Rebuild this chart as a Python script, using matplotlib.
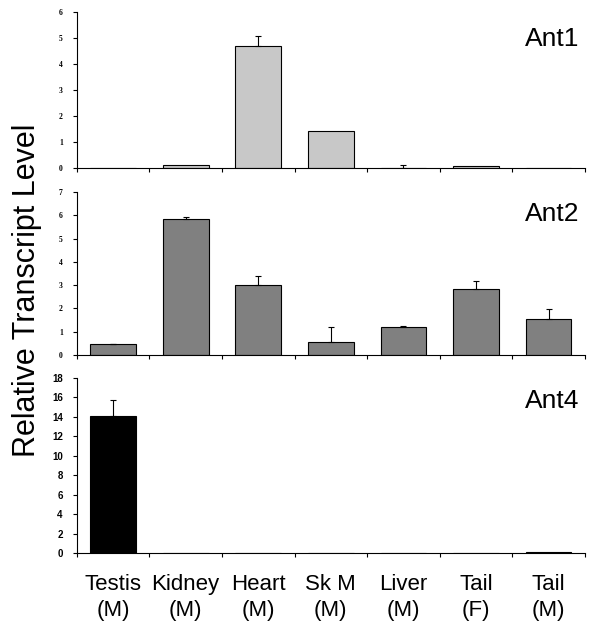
import matplotlib
matplotlib.use("Agg")
import matplotlib.pyplot as plt
import numpy as np

# Tissues (sex in brackets)
tissues = ["Testis\n(M)", "Kidney\n(M)", "Heart\n(M)", "Sk M\n(M)",
           "Liver\n(M)", "Tail\n(F)", "Tail\n(M)"]

ant1 = [0.01, 0.12, 4.70, 1.41, 0.0, 0.08, 0.01]
ant1_err = [0.0, 0.0, 0.38, 0.0, 0.12, 0.0, 0.0]

ant2 = [0.45, 5.82, 3.01, 0.54, 1.19, 2.82, 1.56]
ant2_err = [0.02, 0.12, 0.38, 0.65, 0.07, 0.36, 0.40]

ant4 = [14.05, 0.0, 0.05, 0.0, 0.0, 0.0, 0.12]
ant4_err = [1.72, 0.0, 0.0, 0.0, 0.0, 0.0, 0.0]

panels = [
    ("Ant1", ant1, ant1_err, "#c8c8c8", 6, 1, 0.83, (0.129, 0.7354, 0.854, 0.2457)),
    ("Ant2", ant2, ant2_err, "#808080", 7, 1, 0.865, (0.129, 0.4410, 0.854, 0.2567)),
    ("Ant4", ant4, ant4_err, "#000000", 18, 2, 0.87, (0.129, 0.1291, 0.854, 0.2756)),
]

fig = plt.figure(figsize=(5.95, 6.35), dpi=100)
x = np.arange(len(tissues))

for i, (name, vals, errs, col, ymax, step, ty, rect) in enumerate(panels):
    ax = fig.add_axes(rect)
    ax.bar(x, vals, width=0.63, color=col, edgecolor="black", linewidth=0.8)
    nz = [j for j in range(len(errs)) if errs[j] > 0]
    ax.errorbar(x[nz], np.array(vals)[nz],
                yerr=[np.zeros(len(nz)), np.array(errs)[nz]],
                fmt="none", ecolor="black", elinewidth=0.8, capsize=2.5, capthick=0.8)
    ax.set_xlim(-0.5, 6.5)
    ax.set_ylim(0, ymax)
    ax.set_yticks(np.arange(0, ymax + 0.01, step))
    ax.spines["top"].set_visible(False)
    ax.spines["right"].set_visible(False)
    ax.spines["left"].set_linewidth(0.8)
    ax.spines["bottom"].set_linewidth(0.8)
    ax.set_xticks(np.arange(-0.5, 7, 1))
    ax.tick_params(axis="x", which="major", direction="out", length=3, width=0.8, labelbottom=False)
    ax.tick_params(axis="y", direction="out", length=3, width=0.8, pad=7)
    if i < 2:
        for t in ax.get_yticklabels():
            t.set_fontfamily("Liberation Serif")
            t.set_fontweight("bold")
            t.set_fontsize(5.5)
    else:
        for t in ax.get_yticklabels():
            t.set_fontfamily("Liberation Sans")
            t.set_fontweight("bold")
            t.set_fontsize(7)
        ax.set_xticks(x, minor=True)
        ax.set_xticklabels(tissues, minor=True, fontsize=16, family="Liberation Sans",
                           linespacing=1.35)
        ax.tick_params(axis="x", which="minor", length=0, pad=15)
    ax.text(0.99, ty, name, transform=ax.transAxes, ha="right", va="center",
            fontsize=19, family="Liberation Sans")

fig.text(0.045, 0.543, "Relative Transcript Level", rotation=90, ha="center", va="center",
         fontsize=22, family="Liberation Sans")

fig.savefig("out.png", dpi=100)
